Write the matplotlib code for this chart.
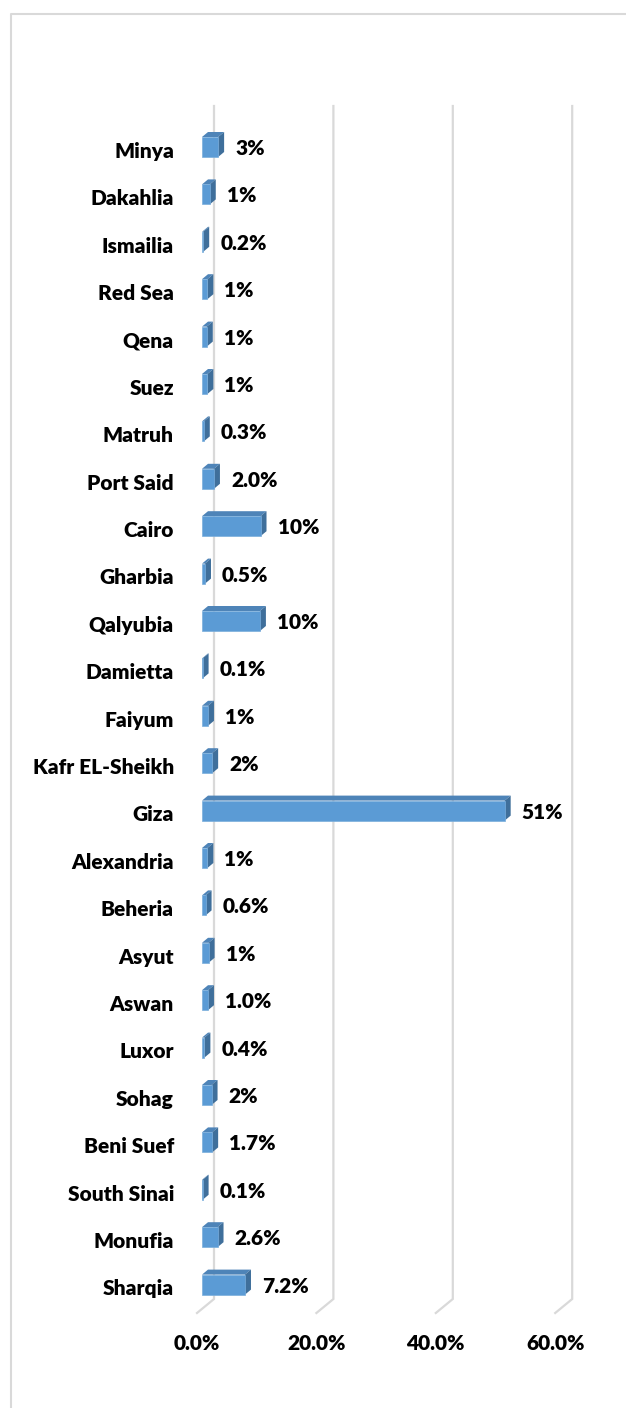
import matplotlib
matplotlib.use('Agg')
import matplotlib.pyplot as plt
from matplotlib.patches import Polygon
from matplotlib.lines import Line2D

# ── data (top row first) ──────────────────────────────────────────────────────
governorates = ['Minya', 'Dakahlia', 'Ismailia', 'Red Sea', 'Qena', 'Suez',
                'Matruh', 'Port Said', 'Cairo', 'Gharbia', 'Qalyubia',
                'Damietta', 'Faiyum', 'Kafr EL-Sheikh', 'Giza', 'Alexandria',
                'Beheria', 'Asyut', 'Aswan', 'Luxor', 'Sohag', 'Beni Suef',
                'South Sinai', 'Monufia', 'Sharqia']
shares = [2.7, 1.3, 0.2, 0.9, 0.8, 0.9, 0.3, 2.0, 9.8, 0.5, 9.7, 0.1, 1.0,
          1.7, 50.7, 0.9, 0.6, 1.1, 1.0, 0.4, 1.6, 1.7, 0.1, 2.6, 7.2]
share_labels = ['3%', '1%', '0.2%', '1%', '1%', '1%', '0.3%', '2.0%', '10%',
                '0.5%', '10%', '0.1%', '1%', '2%', '51%', '1%', '0.6%', '1%',
                '1.0%', '0.4%', '2%', '1.7%', '0.1%', '2.6%', '7.2%']
xticks = [0, 20, 40, 60]
xtick_labels = ['0.0%', '20.0%', '40.0%', '60.0%']

# ── geometry (pixels -> data units) ──────────────────────────────────────────
W, H, DPI = 626, 1408, 100
PX_X = 5.97          # px per percent
PX_Y = 47.4          # px per category row
X0_PX = 202          # pixel of 0 %
ROW0_PX = 147        # pixel (from top) of first row centre

plt.rcParams['font.family'] = ['Lato', 'DejaVu Sans']
FS = 15
FW = 'heavy'

fig = plt.figure(figsize=(W / DPI, H / DPI), dpi=DPI)
ax_l, ax_r = X0_PX, 596
ax_t, ax_b = 100, 1330
ax = fig.add_axes([ax_l / W, 1 - ax_b / H, (ax_r - ax_l) / W, (ax_b - ax_t) / H])
ax.set_xlim(0, (ax_r - ax_l) / PX_X)
ax.set_ylim((ax_b - ROW0_PX) / PX_Y, (ax_t - ROW0_PX) / PX_Y)
ax.axis('off')

def py(p):   # pixel row -> data y
    return (p - ROW0_PX) / PX_Y

# ── gridlines with 3D floor kink ─────────────────────────────────────────────
back_dx = 12 / PX_X
front_dx = -5 / PX_X
for v in xticks:
    ax.plot([v + back_dx, v + back_dx, v + front_dx],
            [py(106), py(1299), py(1313)],
            color='#D9D9D9', lw=1.6, zorder=1, clip_on=False,
            solid_joinstyle='miter')
for v, lab in zip(xticks, xtick_labels):
    ax.text(v + front_dx, py(1344), lab, ha='center', va='center',
            fontsize=FS, fontweight=FW, color='#000000', clip_on=False)

# ── 3D bars ───────────────────────────────────────────────────────────────────
bh = 20 / PX_Y
ddx = 6 / PX_X
ddy = 5 / PX_Y
FRONT, TOP, SIDE = '#5B9BD5', '#4E84B8', '#3F6F9B'
for i, (name, v, lab) in enumerate(zip(governorates, shares, share_labels)):
    y_top, y_bot = i - bh / 2, i + bh / 2
    front = Polygon([(0, y_top), (v, y_top), (v, y_bot), (0, y_bot)],
                    closed=True, fc=FRONT, ec='#7AAEDC', lw=0.5, zorder=3)
    top = Polygon([(0, y_top), (v, y_top), (v + ddx, y_top - ddy),
                   (ddx, y_top - ddy)], closed=True, fc=TOP, ec='none', zorder=3)
    side = Polygon([(v, y_top), (v + ddx, y_top - ddy),
                    (v + ddx, y_bot - ddy), (v, y_bot)],
                   closed=True, fc=SIDE, ec='none', zorder=3)
    for p in (top, side, front):
        p.set_clip_on(False)
        ax.add_patch(p)
    ax.text(v + 17 / PX_X, i + 0.03, lab, ha='left', va='center',
            fontsize=FS, fontweight=FW, clip_on=False, zorder=4)
    ax.text((174 - X0_PX) / PX_X, i + 0.09, name, ha='right', va='center',
            fontsize=FS, fontweight=FW, clip_on=False, zorder=4)

# ── outer chart border ───────────────────────────────────────────────────────
bx, by = 11 / W, 1 - 14 / H
fig.add_artist(Line2D([bx, bx, 1.0], [0.0, by, by], color='#D9D9D9', lw=1.5))

fig.savefig('out.png', dpi=DPI, facecolor='white')
